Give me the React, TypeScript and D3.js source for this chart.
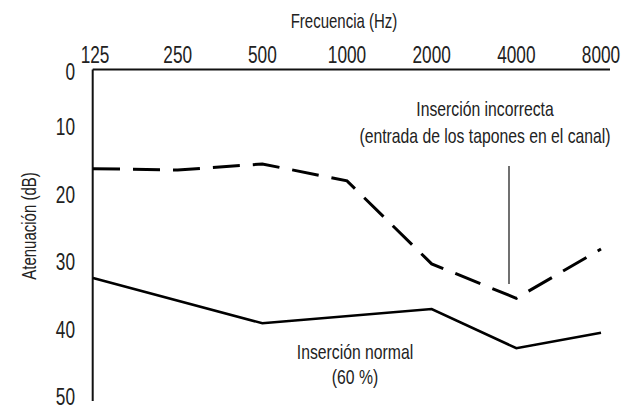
import React from "react";
import * as d3 from "d3";

const frequencies = [125, 250, 500, 1000, 2000, 4000, 8000];
const xTickLabels = ["125", "250", "500", "1000", "2000", "4000", "8000"];
const yTicks = [0, 10, 20, 30, 40, 50];
const incorrectInsertion = [16.1, 16.3, 15.4, 17.9, 30.2, 35.3, 28.0];
const normalFreqs = [125, 500, 2000, 4000, 8000];
const normalInsertion = [32.3, 39.0, 36.9, 42.7, 40.4];

const W = 629;
const H = 409;
const FONT = "'Liberation Sans', Arial, sans-serif";
const SQUEEZE = 0.75;

function CText(props: {
  x: number;
  y: number;
  size: number;
  anchor?: string;
  baseline?: string;
  rotate?: number;
  children: React.ReactNode;
}) {
  const { x, y, size, anchor = "middle", baseline, rotate = 0, children } = props;
  return (
    <text
      transform={`translate(${x},${y}) rotate(${rotate}) scale(${SQUEEZE},1)`}
      fontSize={size}
      textAnchor={anchor}
      dominantBaseline={baseline}
      fill="#222"
    >
      {children}
    </text>
  );
}

export default function App() {
  const x = d3.scaleLog().base(2).domain([125, 8000]).range([93, 601]);
  const y = d3.scaleLinear().domain([0, 50]).range([60, 397.5]);

  const axisTop = 69.5;
  const axisLeft = 92.7;

  const dashed = d3
    .line<number>()
    .x((_, i) => x(frequencies[i]))
    .y((d) => y(d));

  const solid = d3
    .line<number>()
    .x((_, i) => x(normalFreqs[i]))
    .y((d) => y(d));

  return (
    <svg
      width={W}
      height={H}
      style={{ position: "absolute", left: 0, top: 0, background: "#fff" }}
      fontFamily={FONT}
    >
      <CText x={344} y={28} size={20}>
        Frecuencia (Hz)
      </CText>
      {frequencies.map((f, i) => (
        <CText key={f} x={x(f) + (i === 0 ? 2 : 0)} y={63} size={23}>
          {xTickLabels[i]}
        </CText>
      ))}
      {yTicks.map((t) => (
        <CText key={t} x={75} y={Math.max(y(t), 72)} size={23} anchor="end" baseline="central">
          {t}
        </CText>
      ))}
      <CText x={29} y={226} size={20} rotate={-90} baseline="central">
        Atenuación (dB)
      </CText>

      <line x1={axisLeft} x2={610} y1={axisTop} y2={axisTop} stroke="#111" strokeWidth={2} />
      <line x1={axisLeft} x2={axisLeft} y1={axisTop} y2={401} stroke="#111" strokeWidth={2} />

      <path
        d={dashed(incorrectInsertion) || ""}
        fill="none"
        stroke="#000"
        strokeWidth={3}
        strokeDasharray="27 13"
      />
      <path d={solid(normalInsertion) || ""} fill="none" stroke="#000" strokeWidth={2.6} />

      <line x1={509} x2={509} y1={166} y2={284} stroke="#111" strokeWidth={1.2} />

      <CText x={485} y={116} size={21}>
        Inserción incorrecta
      </CText>
      <CText x={485} y={143} size={21}>
        (entrada de los tapones en el canal)
      </CText>
      <CText x={355} y={359} size={21}>
        Inserción normal
      </CText>
      <CText x={355} y={384} size={21}>
        (60 %)
      </CText>
    </svg>
  );
}
